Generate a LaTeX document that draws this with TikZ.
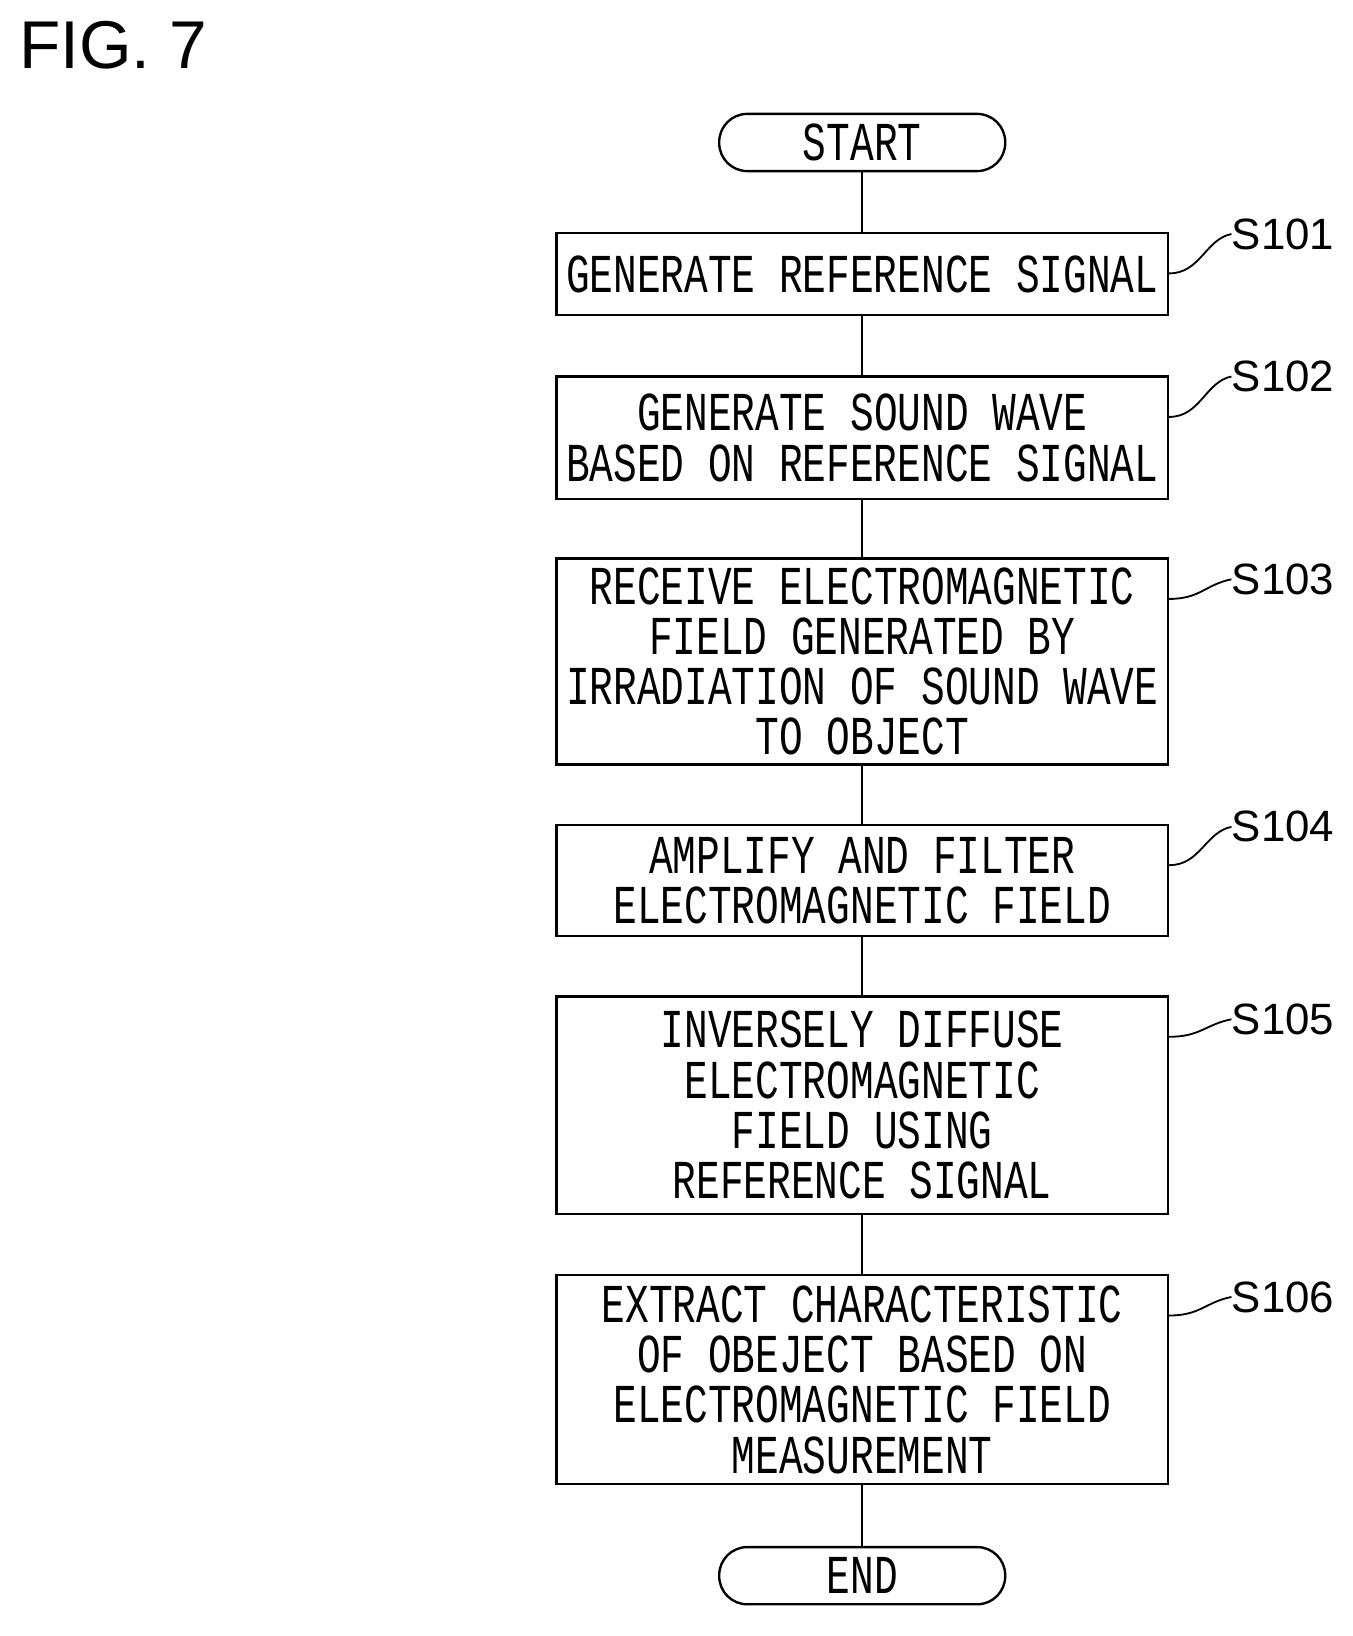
\documentclass[tikz,border=0pt]{standalone}
\usepackage{fontspec}
\setmainfont{Liberation Sans}
\newfontfamily\stepfont{Liberation Mono}[FakeStretch=0.72]
\usetikzlibrary{positioning}
\begin{document}
\begin{tikzpicture}[x=0.02cm,y=-0.02cm]
\tikzset{
    stepbox/.style={
           rectangle,
           draw,
           line width=1.3pt,
           minimum width=588*0.02cm,
           inner sep=0pt,
           align=center,
           font=\stepfont\fontsize{30}{27.5}\selectfont},
    term/.style={
           rectangle,
           rounded corners=27*0.02cm,
           draw,
           line width=1.3pt,
           minimum width=275*0.02cm,
           minimum height=55*0.02cm,
           inner sep=0pt,
           font=\stepfont\fontsize{30}{24}\selectfont},
    steplabel/.style={
           anchor=west,
           inner sep=0pt,
           font=\fontsize{24}{24}\selectfont},
    line/.style={
           line width=1.3pt}
}
\useasboundingbox (0,0) rectangle (1300,1573);
\node[anchor=north west,inner sep=0pt,font=\fontsize{37}{37}\selectfont] (fig) at (18,20) {FIG. 7};
\node[term] (start) at (829,137) {START};
\node[stepbox,minimum height=79*0.02cm] (s101) at (829,263.5) {GENERATE REFERENCE SIGNAL};
\node[stepbox,minimum height=118*0.02cm] (s102) at (829,421) {GENERATE SOUND WAVE\\BASED ON REFERENCE SIGNAL};
\node[stepbox,minimum height=198*0.02cm] (s103) at (829,636) {RECEIVE ELECTROMAGNETIC\\FIELD GENERATED BY\\IRRADIATION OF SOUND WAVE\\TO OBJECT};
\node[stepbox,minimum height=107*0.02cm] (s104) at (829,846.5) {AMPLIFY AND FILTER\\ELECTROMAGNETIC FIELD};
\node[stepbox,minimum height=209*0.02cm] (s105) at (829,1062.5) {INVERSELY DIFFUSE\\ELECTROMAGNETIC\\FIELD USING\\REFERENCE SIGNAL};
\node[stepbox,minimum height=201*0.02cm] (s106) at (829,1326.5) {EXTRACT CHARACTERISTIC\\OF OBEJECT BASED ON\\ELECTROMAGNETIC FIELD\\MEASUREMENT};
\node[term] (end) at (829,1515) {END};
% connectors
\draw[line] (start) -- (s101);
\draw[line] (s101) -- (s102);
\draw[line] (s102) -- (s103);
\draw[line] (s103) -- (s104);
\draw[line] (s104) -- (s105);
\draw[line] (s105) -- (s106);
\draw[line] (s106) -- (end);
% step labels
\foreach \s/\t/\yy in {s101/S101/225,s102/S102/362,s103/S103/557,s104/S104/795,s105/S105/980,s106/S106/1247}{
  \node[steplabel] (l\s) at (1184,\yy) {\t};
  \draw[line,line width=1pt] ([yshift=-40*0.02cm]\s.north east) .. controls +(30,0) and +(-25,5) .. (l\s.west);
}
\end{tikzpicture}
\end{document}
